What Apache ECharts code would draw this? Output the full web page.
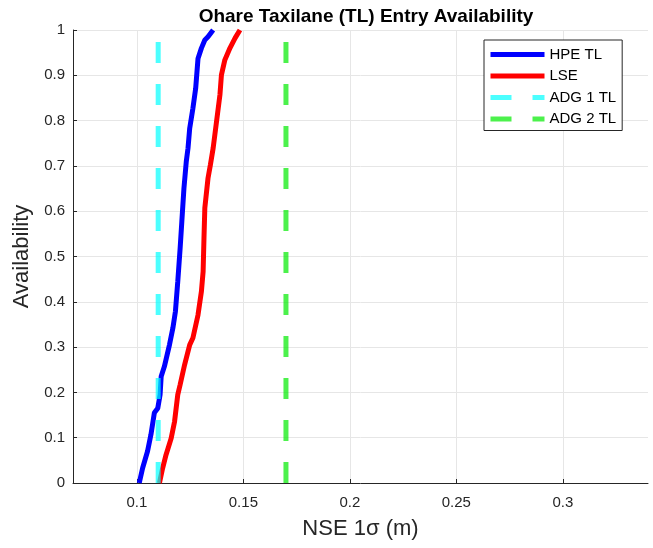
<!DOCTYPE html>
<html>
<head>
<meta charset="utf-8">
<script src="https://cdn.jsdelivr.net/npm/echarts@6/dist/echarts.min.js"></script>
<style>
  html, body { margin: 0; padding: 0; background: #fff; }
  #chart { width: 653px; height: 548px; }
</style>
</head>
<body>
<div id="chart"></div>
<script>
// values
const hpeNse = [0.1011, 0.1027, 0.1050, 0.1066, 0.1082, 0.1098, 0.1109, 0.1114, 0.1129, 0.1153, 0.1169, 0.1181, 0.1192, 0.1203, 0.1211, 0.1221, 0.1232, 0.1240, 0.1248, 0.1263, 0.1276, 0.1287, 0.1303, 0.1319, 0.1334, 0.1358]
const hpeAvail = [0, 0.033, 0.07, 0.107, 0.155, 0.165, 0.195, 0.235, 0.257, 0.305, 0.342, 0.379, 0.445, 0.518, 0.577, 0.651, 0.71, 0.739, 0.783, 0.827, 0.871, 0.937, 0.96, 0.978, 0.985, 1]
const lseNse = [0.1106, 0.1121, 0.1137, 0.1161, 0.1177, 0.1192, 0.1203, 0.1224, 0.1248, 0.1263, 0.1287, 0.1303, 0.1311, 0.1315, 0.1319, 0.1334, 0.1345, 0.1358, 0.1374, 0.1390, 0.1397, 0.1413, 0.1437, 0.1461, 0.1484]
const lseAvail = [0, 0.033, 0.0625, 0.099, 0.136, 0.195, 0.217, 0.261, 0.305, 0.32, 0.371, 0.423, 0.467, 0.54, 0.607, 0.673, 0.702, 0.739, 0.798, 0.857, 0.901, 0.934, 0.96, 0.982, 1]
const adg1Nse = 0.11
const adg2Nse = 0.17
const availRange = [0, 1]
const xTicks = [0.1, 0.15, 0.2, 0.25, 0.3]

const pair = (xs, ys) => xs.map((x, i) => [x, ys[i]])
const vline = x => availRange.map(y => [x, y])

const font = 'Liberation Sans, Arial, sans-serif'
const ink = '#262626'

const chart = echarts.init(document.getElementById('chart'))
chart.setOption({
  animation: false,
  textStyle: {fontFamily: font},
  title: {
    text: 'Ohare Taxilane (TL) Entry Availability',
    left: 361,
    top: 2,
    textAlign: 'center',
    textStyle: {fontSize: 19, fontWeight: 'bold', color: '#000', fontFamily: font}
  },
  legend: {
    left: 484,
    top: 40,
    orient: 'vertical',
    backgroundColor: '#fff',
    borderColor: ink,
    borderWidth: 1,
    borderRadius: 0,
    padding: [7, 6, 4, 4],
    itemWidth: 54,
    itemHeight: 14,
    itemGap: 6.5,
    itemTextGap: 4,
    itemStyle: {opacity: 0},
    lineStyle: {width: 5},
    textStyle: {fontSize: 15, color: '#000', fontFamily: font},
    data: ['HPE TL', 'LSE', 'ADG 1 TL', 'ADG 2 TL']
  },
  grid: {left: 73, right: 5, top: 30, bottom: 65, containLabel: false},
  xAxis: {
    type: 'value',
    min: 0.07,
    max: 0.34,
    name: 'NSE 1σ (m)',
    nameLocation: 'middle',
    nameGap: 35,
    nameTextStyle: {fontSize: 22, color: ink},
    axisLine: {onZero: false, lineStyle: {color: ink}},
    axisTick: {inside: true, length: 4, customValues: xTicks, lineStyle: {color: ink}},
    axisLabel: {customValues: xTicks, fontSize: 15, color: ink, margin: 12},
    splitLine: {show: true, lineStyle: {color: '#e6e6e6'}}
  },
  yAxis: {
    type: 'value',
    min: 0,
    max: 1,
    interval: 0.1,
    name: 'Availability',
    nameLocation: 'middle',
    nameGap: 35,
    nameTextStyle: {fontSize: 22, color: ink},
    axisLine: {show: true, lineStyle: {color: ink}},
    axisTick: {show: true, inside: true, length: 4, lineStyle: {color: ink}},
    axisLabel: {fontSize: 15, color: ink, margin: 8},
    splitLine: {show: true, lineStyle: {color: '#e6e6e6'}}
  },
  series: [
    {name: 'HPE TL', data: pair(hpeNse, hpeAvail), color: '#0000ff', lineStyle: {width: 5}},
    {name: 'LSE', data: pair(lseNse, lseAvail), color: '#ff0000', lineStyle: {width: 5}},
    {name: 'ADG 1 TL', data: vline(adg1Nse), color: 'rgba(0,255,255,0.7)', lineStyle: {width: 5, type: [21, 21]}},
    {name: 'ADG 2 TL', data: vline(adg2Nse), color: 'rgba(0,235,0,0.7)', lineStyle: {width: 5, type: [21, 21]}}
  ].map(s => ({
    ...s,
    type: 'line',
    symbol: 'none',
    showSymbol: false,
    silent: true
  }))
})
</script>
</body>
</html>
